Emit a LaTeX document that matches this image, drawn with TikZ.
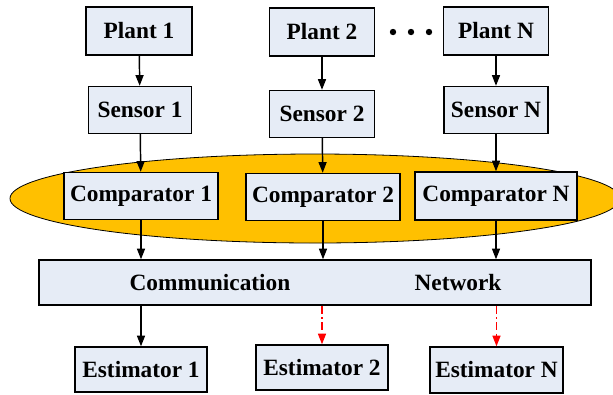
\documentclass[tikz,border=0pt]{standalone}
\usepackage{fontspec}
\setmainfont{Liberation Serif}
\usepackage{xcolor}
\usepackage{tikz}
\usetikzlibrary{arrows.meta}

\definecolor{boxfill}{RGB}{230,236,246}
\definecolor{ovalfill}{RGB}{255,192,0}

\begin{document}
\begin{tikzpicture}[x=0.75pt, y=-0.75pt,
    blk/.style={rectangle, draw, line width=1.1pt, fill=boxfill, inner sep=0pt,
        font=\fontsize{17.5}{20}\selectfont\bfseries},
    arr/.style={-{Triangle[length=8pt, width=6pt]}, line width=1.1pt},
    lossy/.style={-{Triangle[length=8pt, width=6pt]}, line width=1.2pt, red, dash pattern=on 6pt off 2.5pt on 1.5pt off 2.5pt}]
    \useasboundingbox (0,0) rectangle (613,394);

    \fill[ovalfill, draw=black, line width=0.6pt] (315,198.5) ellipse [x radius=305, y radius=44.5];

    \node[blk, minimum width=106*0.75pt, minimum height=48*0.75pt] (P1) at (139,31) {Plant 1};
    \node[blk, minimum width=105*0.75pt, minimum height=48*0.75pt] (P2) at (322,32) {Plant 2};
    \node[blk, minimum width=105*0.75pt, minimum height=48*0.75pt] (PN) at (496,31) {Plant N};

    \node[blk, minimum width=103*0.75pt, minimum height=47*0.75pt] (S1) at (140,110) {Sensor 1};
    \node[blk, minimum width=105*0.75pt, minimum height=47*0.75pt] (S2) at (322,114) {Sensor 2};
    \node[blk, minimum width=104*0.75pt, minimum height=47*0.75pt] (SN) at (496,110) {Sensor N};

    \node[blk, minimum width=154*0.75pt, minimum height=47*0.75pt] (C1) at (141,196) {Comparator 1};
    \node[blk, minimum width=154*0.75pt, minimum height=47*0.75pt] (C2) at (323,197) {Comparator 2};
    \node[blk, minimum width=162*0.75pt, minimum height=48*0.75pt] (CN) at (496,196) {Comparator N};

    \node[blk, minimum width=552*0.75pt, minimum height=45*0.75pt] (NET) at (315,282.5) {};
    \node[font=\fontsize{17.5}{20}\selectfont\bfseries] (comm) at (210,282.5) {Communication};
    \node[font=\fontsize{17.5}{20}\selectfont\bfseries] (netw) at (458,282.5) {Network};

    \node[blk, minimum width=132*0.75pt, minimum height=45*0.75pt] (E1) at (141,369.5) {Estimator 1};
    \node[blk, minimum width=132*0.75pt, minimum height=45*0.75pt] (E2) at (322,367.5) {Estimator 2};
    \node[blk, minimum width=133*0.75pt, minimum height=46*0.75pt] (EN) at (496.5,370) {Estimator N};

    % dots between plant 2 and plant N
    \foreach \x in {393,411,429}
        \fill (\x,32) circle [radius=3.2];

    \draw[arr] (P1) -- (S1);
    \draw[arr] (P2) -- (S2);
    \draw[arr] (PN) -- (SN);
    \draw[arr] (S1) -- (C1);
    \draw[arr] (S2) -- (C2);
    \draw[arr] (SN) -- (CN);
    \draw[arr] (C1.south) -- (C1.south |- NET.north);
    \draw[arr] (C2.south) -- (C2.south |- NET.north);
    \draw[arr] (CN.south) -- (CN.south |- NET.north);
    \draw[arr] (E1.north |- NET.south) -- (E1.north);
    \draw[lossy] (E2.north |- NET.south) -- (E2.north);
    \draw[lossy] (EN.north |- NET.south) -- (EN.north);
\end{tikzpicture}
\end{document}
